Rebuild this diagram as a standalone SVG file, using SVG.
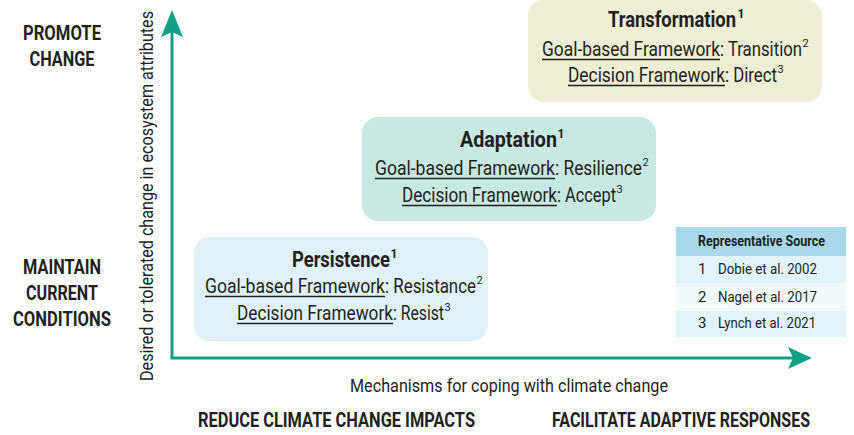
<svg xmlns="http://www.w3.org/2000/svg" width="854" height="435" viewBox="0 0 854 435">
<defs>
<style>
text{font-family:Roboto,"Liberation Sans",sans-serif;fill:#231f20}
.t{font-size:22px;font-weight:bold}
.b{font-size:20px}
.s{font-size:11px}
.sb{font-size:12px;font-weight:bold}
.lab{font-size:20px;font-weight:bold;text-anchor:middle}
.ul{stroke:#231f20;stroke-width:1.3}
.ax{stroke:#13a185;stroke-width:3;fill:none}
.ah{fill:#13a185}
.tb{font-size:15px}
</style>
</defs>
<rect width="854" height="435" fill="#ffffff"/>

<g id="axes">
<line class="ax" x1="172" y1="30" x2="172" y2="358"/>
<line class="ax" x1="170.5" y1="358" x2="793" y2="358"/>
<polygon class="ah" points="172,10 161,37 172,32 183,37"/>
<polygon class="ah" points="812,358 788,347 793,358 788,369"/>
</g>

<g id="axis-labels">
<text x="153" y="196" font-size="19" text-anchor="middle" transform="rotate(-90 153 196)" textLength="370" lengthAdjust="spacingAndGlyphs">Desired or tolerated change in ecosystem attributes</text>
<text x="509" y="392" font-size="18" text-anchor="middle" textLength="318" lengthAdjust="spacingAndGlyphs">Mechanisms for coping with climate change</text>
<text x="198" y="427" font-size="20" font-weight="bold" textLength="277" lengthAdjust="spacingAndGlyphs">REDUCE  CLIMATE CHANGE IMPACTS</text>
<text x="552" y="427" font-size="20" font-weight="bold" textLength="258" lengthAdjust="spacingAndGlyphs">FACILITATE  ADAPTIVE RESPONSES</text>
<text class="lab" x="62" y="40" textLength="78" lengthAdjust="spacingAndGlyphs">PROMOTE</text>
<text class="lab" x="62" y="66" textLength="65" lengthAdjust="spacingAndGlyphs">CHANGE</text>
<text class="lab" x="62" y="274" textLength="78" lengthAdjust="spacingAndGlyphs">MAINTAIN</text>
<text class="lab" x="62" y="300" textLength="72" lengthAdjust="spacingAndGlyphs">CURRENT</text>
<text class="lab" x="62" y="326" textLength="98" lengthAdjust="spacingAndGlyphs">CONDITIONS</text>
</g>

<g id="transformation">
<rect x="528" y="0" width="294" height="102" rx="16" fill="#eeedd6"/>
<text class="t" x="608" y="27" textLength="128" lengthAdjust="spacingAndGlyphs">Transformation</text>
<text class="sb" x="737.5" y="18">1</text>
<text class="b" x="542" y="56" textLength="178" lengthAdjust="spacingAndGlyphs">Goal-based Framework</text>
<line class="ul" x1="542" y1="59.5" x2="720" y2="59.5"/>
<text class="b" x="720" y="56" textLength="82" lengthAdjust="spacingAndGlyphs">: Transition</text>
<text class="s" x="802.5" y="47">2</text>
<text class="b" x="568" y="82" textLength="157" lengthAdjust="spacingAndGlyphs">Decision Framework</text>
<line class="ul" x1="568" y1="85.5" x2="725" y2="85.5"/>
<text class="b" x="725" y="82" textLength="52" lengthAdjust="spacingAndGlyphs">: Direct</text>
<text class="s" x="777.5" y="73">3</text>
</g>

<g id="adaptation">
<rect x="362" y="117" width="294" height="104" rx="16" fill="#c9e8e1"/>
<text class="t" x="460" y="147" textLength="97" lengthAdjust="spacingAndGlyphs">Adaptation</text>
<text class="sb" x="557.5" y="138">1</text>
<text class="b" x="375" y="175" textLength="180" lengthAdjust="spacingAndGlyphs">Goal-based Framework</text>
<line class="ul" x1="375" y1="178.5" x2="555" y2="178.5"/>
<text class="b" x="555" y="175" textLength="87" lengthAdjust="spacingAndGlyphs">: Resilience</text>
<text class="s" x="642.5" y="166">2</text>
<text class="b" x="402" y="202" textLength="155" lengthAdjust="spacingAndGlyphs">Decision Framework</text>
<line class="ul" x1="402" y1="205.5" x2="557" y2="205.5"/>
<text class="b" x="557" y="202" textLength="59" lengthAdjust="spacingAndGlyphs">: Accept</text>
<text class="s" x="616.5" y="193">3</text>
</g>

<g id="persistence">
<rect x="194" y="237" width="294" height="104" rx="16" fill="#e0f1f9"/>
<text class="t" x="292" y="267" textLength="98" lengthAdjust="spacingAndGlyphs">Persistence</text>
<text class="sb" x="390.5" y="258">1</text>
<text class="b" x="205" y="293" textLength="180" lengthAdjust="spacingAndGlyphs">Goal-based Framework</text>
<line class="ul" x1="205" y1="296.5" x2="385" y2="296.5"/>
<text class="b" x="385" y="293" textLength="91" lengthAdjust="spacingAndGlyphs">: Resistance</text>
<text class="s" x="476.5" y="284">2</text>
<text class="b" x="237" y="320" textLength="156" lengthAdjust="spacingAndGlyphs">Decision Framework</text>
<line class="ul" x1="237" y1="323.5" x2="393" y2="323.5"/>
<text class="b" x="393" y="320" textLength="51" lengthAdjust="spacingAndGlyphs">: Resist</text>
<text class="s" x="444.5" y="311">3</text>
</g>

<g id="source-table">
<rect x="676" y="227" width="170" height="29" fill="#a9d9e9"/>
<rect x="676" y="256" width="170" height="27" fill="#e2f3fa"/>
<rect x="676" y="283" width="170" height="28" fill="#f3fafd"/>
<rect x="676" y="311" width="170" height="26" fill="#e2f3fa"/>
<text x="698" y="246" font-size="14" font-weight="bold" textLength="127" lengthAdjust="spacingAndGlyphs">Representative Source</text>
<text class="tb" x="698" y="274">1</text>
<text class="tb" x="718" y="274" textLength="99" lengthAdjust="spacingAndGlyphs">Dobie et al. 2002</text>
<text class="tb" x="698" y="302">2</text>
<text class="tb" x="718" y="302" textLength="99" lengthAdjust="spacingAndGlyphs">Nagel et al. 2017</text>
<text class="tb" x="698" y="328">3</text>
<text class="tb" x="718" y="328" textLength="98" lengthAdjust="spacingAndGlyphs">Lynch et al. 2021</text>
</g>
</svg>
